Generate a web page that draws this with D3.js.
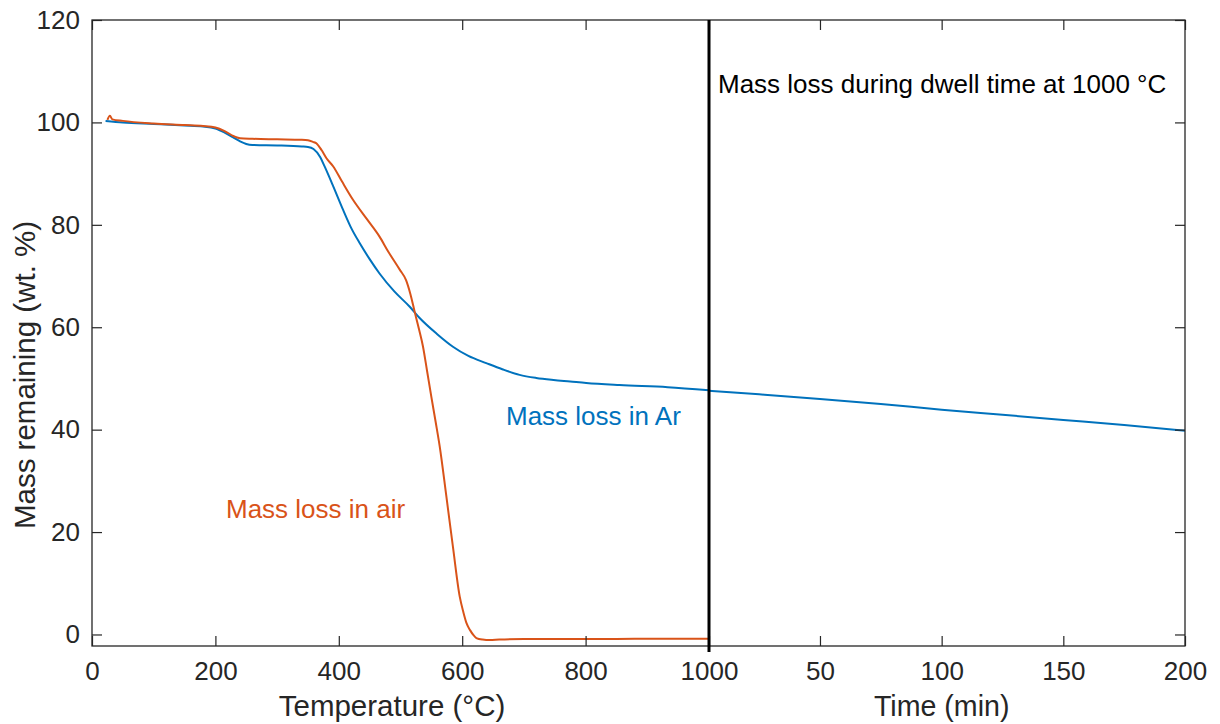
<!DOCTYPE html>
<html>
<head>
<meta charset="utf-8">
<script src="https://cdn.jsdelivr.net/npm/d3@7"></script>
<style>
  html, body { margin: 0; padding: 0; background: #fff; }
  svg { display: block; font-family: "Liberation Sans", Arial, Helvetica, sans-serif; }
</style>
</head>
<body>
<svg id="chart" width="1220" height="724"></svg>
<script>
// ---------- data ----------
const tempTicks = [0, 200, 400, 600, 800, 1000];
const timeTicks = [50, 100, 150, 200];
const yTicks = [0, 20, 40, 60, 80, 100, 120];

// Mass loss in Ar, heating segment (temperature, °C)
const arTemp = [22, 50, 100, 150, 180, 200, 215, 230, 240, 250, 260, 300, 340, 350, 359, 370, 377, 390, 407, 420, 434, 450, 466, 490, 515, 531, 560, 585, 610, 639, 665, 693, 720, 748, 775, 801, 855, 933, 1000];
const arMass = [100.3, 100.0, 99.7, 99.4, 99.2, 98.8, 98.0, 97.0, 96.3, 95.8, 95.6, 95.5, 95.3, 95.2, 94.8, 93.2, 91.4, 87.8, 82.9, 79.4, 76.4, 73.3, 70.5, 67.0, 64.0, 61.8, 58.6, 56.2, 54.4, 53.0, 51.8, 50.7, 50.1, 49.7, 49.4, 49.1, 48.7, 48.3, 47.7];

// Mass loss in Ar, dwell segment at 1000 °C (time, min)
const arTime = [4.5, 25, 50, 75, 100, 125, 150, 175, 200];
const arDwellMass = [47.6, 46.9, 46.0, 45.0, 43.9, 42.9, 41.9, 40.9, 39.8];

// Mass loss in air, heating segment (temperature, °C)
const airTemp = [25, 29, 33, 50, 100, 150, 180, 200, 215, 230, 240, 260, 300, 340, 350, 358, 364, 372, 380, 391, 405, 423, 445, 466, 480, 499, 509, 516, 523, 530, 536.5, 543, 550, 557, 563.6, 574.4, 585, 596, 602, 607, 613, 618, 623, 633, 645, 660, 700, 800, 900, 1000];
const airMass = [100.5, 101.3, 100.6, 100.3, 99.8, 99.5, 99.3, 99.0, 98.3, 97.3, 96.9, 96.8, 96.7, 96.6, 96.5, 96.2, 95.9, 94.6, 93.0, 91.4, 88.5, 84.9, 81.2, 77.7, 74.8, 71.2, 69.2, 66.5, 63.0, 59.6, 56.2, 51.5, 46.4, 41.5, 36.7, 26.9, 17.1, 7.4, 4.3, 2.2, 0.8, -0.1, -0.7, -1.0, -1.1, -1.0, -0.9, -0.9, -0.85, -0.85];

const dwellTemp = 1000;

// ---------- layout ----------
const L = 92, R = 1185, T = 20, B = 646;
const axisColor = "#262626";
const blue = "#0072BD", orange = "#D95319";

const svg = d3.select("#chart");

const xT = d3.scaleLinear().domain([0, 1000]).range([L, 709]);
const xt = d3.scaleLinear().domain([0, 200]).range([698.3, R]);
const y = d3.scaleLinear().domain([-2.25, 120]).range([B, T]);

// ---------- lines ----------
const lineT = d3.line().curve(d3.curveMonotoneX).x(d => xT(d[0])).y(d => y(d[1]));
const lineTime = d3.line().curve(d3.curveMonotoneX).x(d => xt(d[0])).y(d => y(d[1]));

svg.append("clipPath").attr("id", "clip")
  .append("rect").attr("x", L).attr("y", T).attr("width", R - L).attr("height", B - T);

const g = svg.append("g").attr("clip-path", "url(#clip)");

g.append("path")
  .datum(arTemp.map((t, i) => [t, arMass[i]]))
  .attr("d", lineT).attr("fill", "none").attr("stroke", blue)
  .attr("stroke-width", 2).attr("stroke-linejoin", "round");

g.append("path")
  .datum(arTime.map((t, i) => [t, arDwellMass[i]]))
  .attr("d", lineTime).attr("fill", "none").attr("stroke", blue)
  .attr("stroke-width", 2).attr("stroke-linejoin", "round");

g.append("path")
  .datum(airTemp.map((t, i) => [t, airMass[i]]))
  .attr("d", lineT).attr("fill", "none").attr("stroke", orange)
  .attr("stroke-width", 2).attr("stroke-linejoin", "round");

// ---------- axes ----------
const fs = 26;
const fmt = d3.format("d");
function styleAxis(sel) {
  sel.select(".domain").remove();
  sel.selectAll(".tick line").attr("stroke", axisColor).attr("stroke-width", 1.2);
  sel.selectAll(".tick text").attr("fill", axisColor).attr("font-size", fs)
    .attr("font-family", "'Liberation Sans', Arial, sans-serif");
}

// bottom: temperature
svg.append("g").attr("transform", `translate(0,${B})`)
  .call(d3.axisBottom(xT).tickValues(tempTicks).tickFormat(fmt).tickSizeInner(-10).tickSizeOuter(0).tickPadding(16))
  .call(styleAxis);
// bottom: time
svg.append("g").attr("transform", `translate(0,${B})`)
  .call(d3.axisBottom(xt).tickValues(timeTicks).tickFormat(fmt).tickSizeInner(-10).tickSizeOuter(0).tickPadding(16))
  .call(styleAxis);
// top ticks (no labels)
svg.append("g").attr("transform", `translate(0,${T})`)
  .call(d3.axisTop(xT).tickValues(tempTicks).tickSizeInner(-10).tickSizeOuter(0).tickFormat(""))
  .call(styleAxis);
svg.append("g").attr("transform", `translate(0,${T})`)
  .call(d3.axisTop(xt).tickValues(timeTicks).tickSizeInner(-10).tickSizeOuter(0).tickFormat(""))
  .call(styleAxis);
// left
svg.append("g").attr("transform", `translate(${L},0)`)
  .call(d3.axisLeft(y).tickValues(yTicks).tickFormat(fmt).tickSizeInner(-10).tickSizeOuter(0).tickPadding(12))
  .call(styleAxis);
// right ticks
svg.append("g").attr("transform", `translate(${R},0)`)
  .call(d3.axisRight(y).tickValues(yTicks).tickSizeInner(-10).tickSizeOuter(0).tickFormat(""))
  .call(styleAxis);

// box
svg.append("rect").attr("x", L).attr("y", T).attr("width", R - L).attr("height", B - T)
  .attr("fill", "none").attr("stroke", axisColor).attr("stroke-width", 1.3);

// vertical separator at 1000 °C
svg.append("line")
  .attr("x1", xT(dwellTemp)).attr("x2", xT(dwellTemp))
  .attr("y1", T).attr("y2", B + 6)
  .attr("stroke", "#000").attr("stroke-width", 3);

// ---------- labels ----------
svg.append("text").attr("x", 392).attr("y", 716).attr("text-anchor", "middle")
  .attr("font-size", 29.5).attr("fill", axisColor).text("Temperature (°C)");
svg.append("text").attr("x", xt(100)).attr("y", 716).attr("text-anchor", "middle")
  .attr("font-size", 28.6).attr("fill", axisColor).text("Time (min)");
svg.append("text").attr("transform", "translate(35,375) rotate(-90)").attr("text-anchor", "middle")
  .attr("font-size", 29.5).attr("fill", axisColor).text("Mass remaining (wt. %)");

svg.append("text").attr("x", 718).attr("y", 93).attr("font-size", fs).attr("fill", "#000")
  .text("Mass loss during dwell time at 1000 °C");
svg.append("text").attr("x", 506).attr("y", 425).attr("font-size", fs).attr("fill", blue)
  .text("Mass loss in Ar");
svg.append("text").attr("x", 226).attr("y", 518).attr("font-size", fs).attr("fill", orange)
  .text("Mass loss in air");
</script>
</body>
</html>
